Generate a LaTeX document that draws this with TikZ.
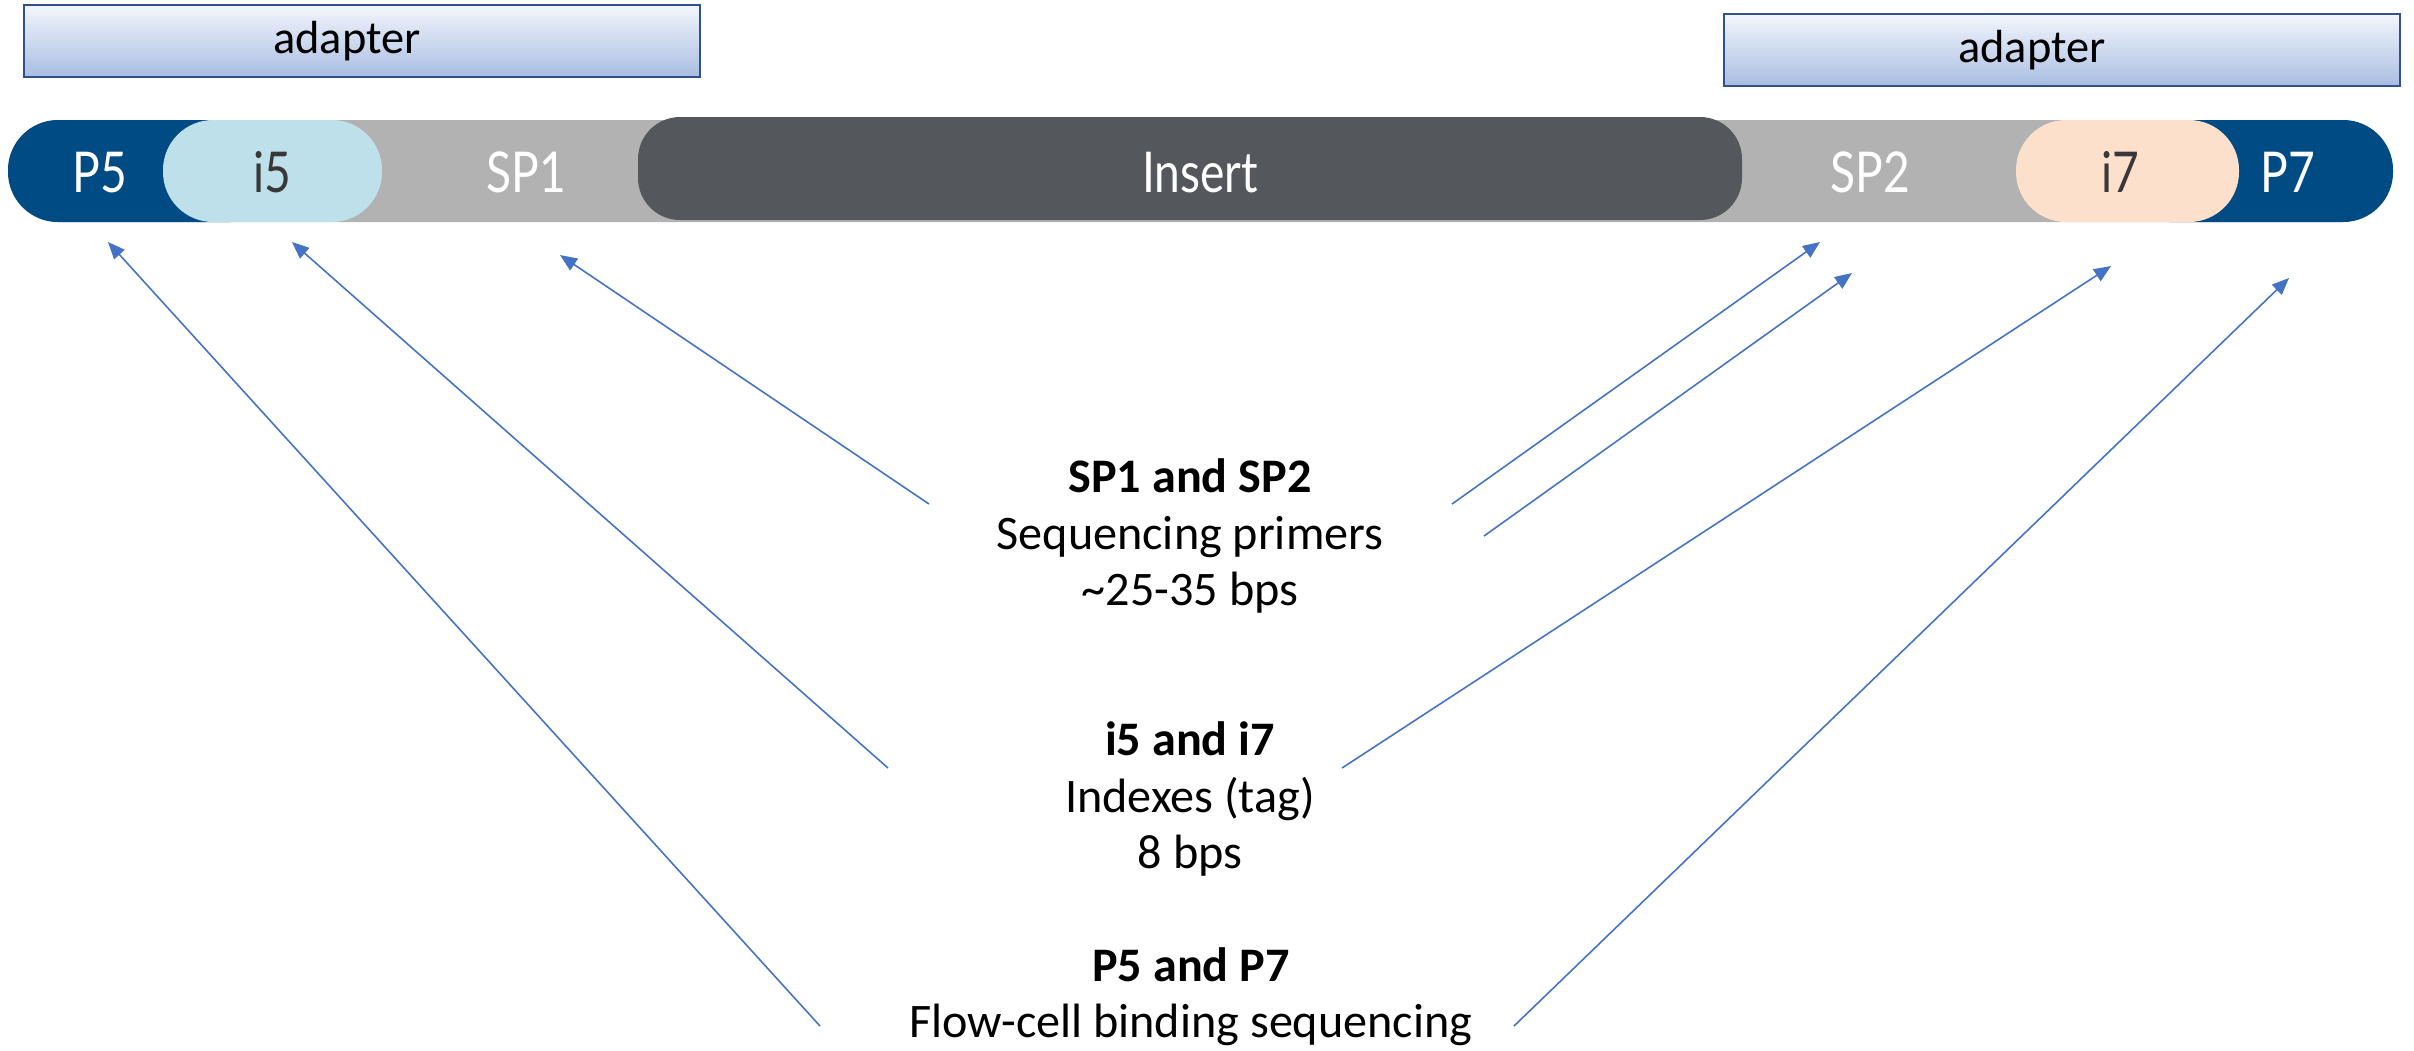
\documentclass[tikz,border=0pt]{standalone}
\usepackage{fontspec}
\setmainfont{Carlito}
\newfontfamily\barfont[FakeStretch=0.82]{Lato}
\usetikzlibrary{arrows.meta}

\definecolor{pfive}{HTML}{004B84}
\definecolor{ifive}{HTML}{BEE0EA}
\definecolor{spgray}{HTML}{B1B2B1}
\definecolor{insgray}{HTML}{54575B}
\definecolor{iseven}{HTML}{FDE0CB}
\definecolor{arrowblue}{HTML}{4472C4}
\definecolor{adtop}{HTML}{F3F6FC}
\definecolor{adbot}{HTML}{A9BDE2}
\definecolor{adline}{HTML}{2F528F}

\begin{document}
\begin{tikzpicture}[x=0.01cm,y=-0.01cm]
\tikzstyle{adapter} = [rectangle, draw=adline, line width=0.02cm,
top color=adtop, bottom color=adbot, minimum width=6.76cm, minimum height=0.72cm,
inner sep=0pt, font=\fontsize{13.2}{16}\selectfont]
\tikzstyle{seglabel} = [anchor=base, inner sep=0pt, text=white,
font=\barfont\fontsize{16}{18}\selectfont]
\tikzstyle{note} = [align=center, font=\fontsize{13.7}{16}\selectfont]
\tikzstyle{line} = [draw=arrowblue, line width=0.45pt,
-{Triangle[length=0.17cm,width=0.14cm]}]

\useasboundingbox (0,0) rectangle (2414,1050);

% adapters
\node[adapter] (adaptL) at (362,41) {adapter\hspace*{0.3cm}};
\node[adapter] (adaptR) at (2062,50) {adapter\hspace*{0.6cm}};

% library fragment
\fill[spgray, rounded corners=0.5cm] (8,120) rectangle (2393,222);
\fill[pfive, rounded corners=0.5cm] (8,120) rectangle (280,222);
\fill[pfive, rounded corners=0.5cm] (2120,120) rectangle (2393,222);
\fill[ifive, rounded corners=0.5cm] (163,120) rectangle (382,222);
\fill[iseven, rounded corners=0.5cm] (2016,120) rectangle (2239,222);
\fill[insgray, rounded corners=0.42cm] (638,117) rectangle (1742,220);

\node[seglabel] (p5) at (100,192) {P5};
\node[seglabel, text=black!78] (i5) at (272,192) {i5};
\node[seglabel] (sp1) at (526,192) {SP1};
\node[seglabel] (insert) at (1200,192) {Insert};
\node[seglabel] (sp2) at (1870,192) {SP2};
\node[seglabel, text=black!78] (i7) at (2120,192) {i7};
\node[seglabel] (p7) at (2288,192) {P7};

% notes
\node[note] (spnote) at (1190,536) {\textbf{SP1 and SP2}\\Sequencing primers\\\textasciitilde 25-35 bps};
\node[note] (idxnote) at (1190,799) {\textbf{i5 and i7}\\Indexes (tag)\\8 bps};
\node[note] (pnote) at (1191,997) {\textbf{P5 and P7}\\Flow-cell binding sequencing};

% arrow ends
\coordinate (p5tail) at (820,1026);   \coordinate (p5tip) at (108,242);
\coordinate (i5tail) at (888,768);    \coordinate (i5tip) at (292,242);
\coordinate (sp1tail) at (929,504);   \coordinate (sp1tip) at (560,255);
\coordinate (sp2tail) at (1452,504);  \coordinate (sp2tip) at (1820,242);
\coordinate (sp2btail) at (1484,536); \coordinate (sp2btip) at (1852,273);
\coordinate (i7tail) at (1342,768);   \coordinate (i7tip) at (2111,266);
\coordinate (p7tail) at (1514,1026);  \coordinate (p7tip) at (2289,278);

\foreach \a in {p5,i5,sp1,sp2,sp2b,i7,p7}
  \path[line] (\a tail) -- (\a tip);

\end{tikzpicture}
\end{document}
